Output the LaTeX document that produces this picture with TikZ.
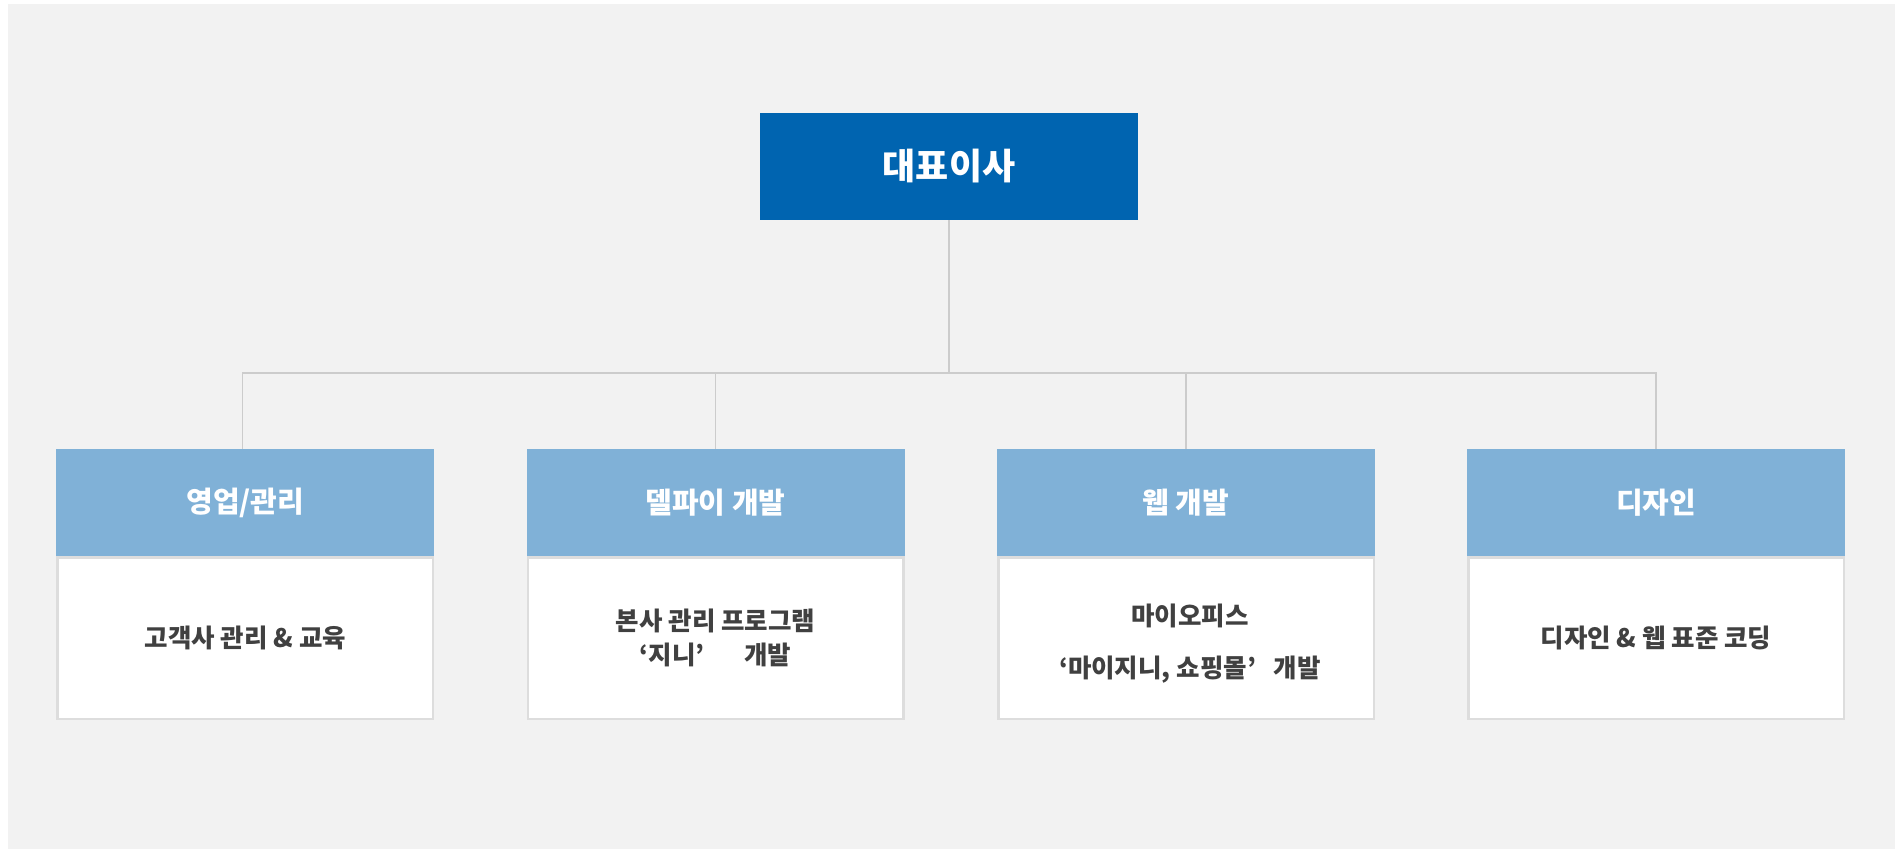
\documentclass[tikz,border=0pt]{standalone}
\usepackage{fontspec}
\setmainfont{Noto Sans CJK KR}
\definecolor{bgc}{HTML}{F2F2F2}
\definecolor{ceoc}{HTML}{0064B0}
\definecolor{headc}{HTML}{80B1D7}
\definecolor{bordc}{HTML}{DDDDDD}
\definecolor{txtc}{HTML}{404040}
\definecolor{linec}{HTML}{CCCCCC}
\tikzset{
  ceobox/.style={fill=ceoc, text=white, minimum width=378pt, minimum height=107pt, inner sep=0pt, font=\fontsize{36}{42}\selectfont\bfseries},
  headbox/.style={fill=headc, text=white, minimum width=378pt, minimum height=107pt, inner sep=0pt, font=\fontsize{29}{34}\selectfont\bfseries},
  bodybox/.style={fill=white, draw=bordc, line width=2.5pt, minimum width=375.5pt, minimum height=161.5pt, inner sep=0pt},
  bodytext/.style={inner sep=0pt, text=txtc, align=center, font=\fontsize{25.5}{34}\selectfont\bfseries},
  conn/.style={draw=linec, line width=1.2pt}
}
\begin{document}
\begin{tikzpicture}[x=1pt,y=-1pt]
\useasboundingbox (0,0) rectangle (1895,849);
\fill[bgc] (8,4) rectangle (1895,849);
\node[ceobox] (ceo) at (949,166.5) {대표이사};
\coordinate (bus) at (949,373);
\node[headbox] (h1) at (245.3,502.5) {영업/관리};
\node[headbox] (h2) at (715.5,502.5) {델파이 개발};
\node[headbox] (h3) at (1186,502.5) {웹 개발};
\node[headbox] (h4) at (1656,502.5) {디자인};
\node[bodybox] (b1) at (245.3,638) {};
\node[bodybox] (b2) at (715.5,638) {};
\node[bodybox] (b3) at (1186,638) {};
\node[bodybox] (b4) at (1656,638) {};
\node[bodytext] (t1) at (b1.center) {고객사 관리 \& 교육};
\node[bodytext] (t2) at (715.5,638) {본사 관리 프로그램\\‘지니’\hspace{40pt}개발};
\node[bodytext] (t3) at (1190,644) {마이오피스\\[18pt]‘마이지니, 쇼핑몰’\hspace{18pt}개발};
\node[bodytext] (t4) at (b4.center) {디자인 \& 웹 표준 코딩};
\draw[conn] (ceo.south) -- (bus);
\draw[conn] ([xshift=-3pt]h1.north) |- (bus);
\draw[conn] (h2.north) |- (bus);
\draw[conn] (h3.north) |- (bus);
\draw[conn] (h4.north) |- (bus);
\end{tikzpicture}
\end{document}
